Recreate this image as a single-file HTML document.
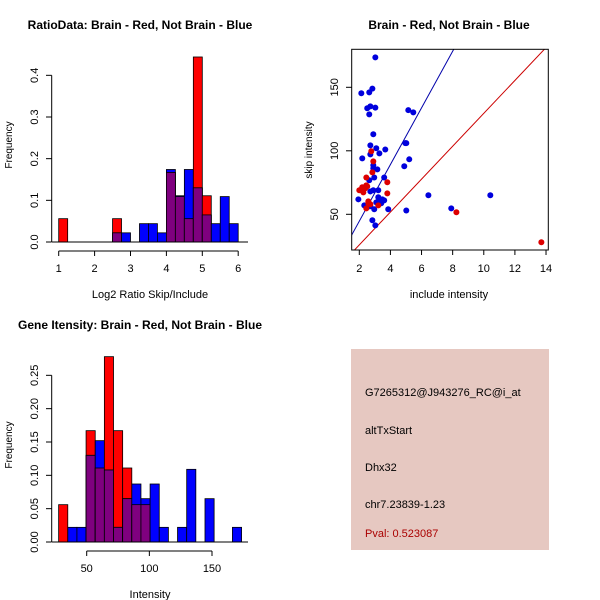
<!DOCTYPE html>
<html><head><meta charset="utf-8"><style>
html,body{margin:0;padding:0;background:#fff;}
svg{display:block;font-family:"Liberation Sans",sans-serif;}
</style></head><body>
<svg id="c" width="600" height="600" viewBox="0 0 600 600">
<rect width="600" height="600" fill="#fff"/>
</svg>
<script>
// ---- Ratio histogram data (bins of 0.25 starting at 1.0)
const ratioBinStarts = [1.0,1.25,1.5,1.75,2.0,2.25,2.5,2.75,3.0,3.25,3.5,3.75,4.0,4.25,4.5,4.75,5.0,5.25,5.5,5.75];
const ratioRed  = [0.056,0,0,0,0,0,0.056,0,0,0,0,0,0.167,0.109,0.056,0.444,0.111,0,0,0];
const ratioBlue = [0,0,0,0,0,0,0.022,0.022,0,0.044,0.044,0.022,0.174,0.111,0.174,0.130,0.065,0.044,0.109,0.044];
const ratioXTicks = [1,2,3,4,5,6];
const ratioYTicks = ["0.0","0.1","0.2","0.3","0.4"];
// ---- Intensity histogram data
const intBinStarts = [27.6,34.9,42.2,49.5,56.8,64.1,71.4,78.7,86.0,93.3,100.6,107.9,115.2,122.5,129.8,137.1,144.4,151.7,159.0,166.3];
const intRed  = [0.056,0,0,0.167,0.111,0.278,0.167,0.111,0.056,0.056,0,0,0,0,0,0,0,0,0,0];
const intBlue = [0,0.022,0.022,0.130,0.152,0.108,0.022,0.065,0.087,0.065,0.087,0.022,0,0.022,0.109,0,0.065,0,0,0.022];
const intXTicks = [50,100,150];
const intYTicks = ["0.00","0.05","0.10","0.15","0.20","0.25"];
// ---- Scatter data
const blueX = [3.03,2.13,2.64,2.84,2.51,2.71,3.03,2.64,2.9,2.71,2.19,2.71,3.09,3.29,3.67,2.9,2.9,3.16,2.96,3.6,2.64,2.71,2.9,3.22,1.94,3.22,3.48,3.6,3.35,3.09,3.41,2.32,2.51,2.71,2.96,3.86,2.84,3.03,4.89,4.96,5.02,5.15,5.47,5.21,5.02,6.44,7.91,10.42];
const blueY = [173.6,145.3,146,149,133.5,135,134,128.7,113,104.3,94,97.2,102,98,101,88.6,86.2,85.4,79,79,76.8,68,68.9,68.9,61.8,63.4,61.8,61,60.2,59.4,58.7,57,55.5,56.3,54,54,45.3,41.3,87.8,106,106,132,130.3,93.3,53,65,54.7,65];
const redX = [2.77,2.9,2.84,2.45,3.8,3.8,2,2.26,2.39,2.19,2.51,2.45,2.58,2.58,2.71,3.22,2.45,8.24,13.7];
const redY = [99.6,91.7,83,79,75.2,66.5,68.9,67.3,70.5,71.3,72,72.8,60.2,58.7,57.9,57,54.7,51.6,28];
const scXTicks = [2,4,6,8,10,12,14];
const scYTicks = [50,100,150];
const blueSlope = 22.3, redSlope = 12.95;

const svg = document.getElementById('c');
const NS = 'http://www.w3.org/2000/svg';
function mk(tag, attrs, parent){
  const e = document.createElementNS(NS, tag);
  for (const k in attrs) e.setAttribute(k, attrs[k]);
  (parent||svg).appendChild(e);
  return e;
}
function txt(x,y,s,opts){
  const t = mk('text',{x:x,y:y,'font-size':(opts&&opts.size)||11,'text-anchor':(opts&&opts.anchor)||'middle',fill:(opts&&opts.fill)||'#000'});
  if(opts&&opts.bold) t.setAttribute('font-weight','bold');
  if(opts&&opts.rot) t.setAttribute('transform','rotate(-90 '+x+' '+y+')');
  t.textContent = s;
  return t;
}
const PURPLE = '#7f007f';

function histogram(g, starts, red, blue, width, xs, ys){
  for (let i=0;i<starts.length;i++){
    const x0 = xs(starts[i]), x1 = xs(starts[i]+width);
    const r = red[i], b = blue[i], m = Math.min(r,b);
    if (r>0){ const e = mk('rect',{x:x0,y:ys(r),width:x1-x0,height:ys(0)-ys(r),fill:'#ff0000',stroke:'#000','stroke-width':0.8},g);
        }
    if (b>0){ const e = mk('rect',{x:x0,y:ys(b),width:x1-x0,height:ys(0)-ys(b),fill:'#0000ff',stroke:'#000','stroke-width':0.8},g);
        }
    if (m>0){ const e = mk('rect',{x:x0,y:ys(m),width:x1-x0,height:ys(0)-ys(m),fill:PURPLE,stroke:'#000','stroke-width':0.8},g);
        }
  }
}

// ===== Panel 1: ratio histogram
(function(){
  const g = mk('g',{});
  
  
  const xs = v => 58.7 + (v-1)*35.9;
  const ys = v => 242 - v*416.7;
  txt(140,29,'RatioData: Brain - Red, Not Brain - Blue',{bold:true,size:12});
  histogram(g, ratioBinStarts, ratioRed, ratioBlue, 0.25, xs, ys);
  mk('line',{x1:52,y1:242,x2:248,y2:242,stroke:'#000'},g);
  mk('line',{x1:xs(1),y1:251,x2:xs(6),y2:251,stroke:'#000'},g);
  ratioXTicks.forEach(t=>{ mk('line',{x1:xs(t),y1:251,x2:xs(t),y2:256,stroke:'#000'},g); txt(xs(t),272,String(t)); });
  mk('line',{x1:51.7,y1:ys(0),x2:51.7,y2:ys(0.4),stroke:'#000'},g);
  ratioYTicks.forEach(t=>{ const y=ys(parseFloat(t)); mk('line',{x1:46,y1:y,x2:51.7,y2:y,stroke:'#000'},g); txt(38,y,t,{rot:true}); });
  txt(150,298,'Log2 Ratio Skip/Include');
  txt(12,145,'Frequency',{rot:true,size:10});
})();

// ===== Panel 2: scatter
(function(){
  const g = mk('g',{});
  
  
  const xs = v => 359.3 + (v-2)*15.56;
  const ys = v => 214.3 - (v-50)*1.27;
  txt(449,29,'Brain - Red, Not Brain - Blue',{bold:true,size:12});
  const cp = mk('clipPath',{id:'scclip'},g); mk('rect',{x:351.7,y:49.3,width:196.6,height:200.7},cp);
  const lg = mk('g',{'clip-path':'url(#scclip)'},g);
  const bl = mk('line',{x1:xs(0),y1:ys(0),x2:xs(14),y2:ys(14*blueSlope),stroke:'#0000aa','stroke-width':1},lg);
   
  const rl = mk('line',{x1:xs(0),y1:ys(0),x2:xs(15),y2:ys(15*redSlope),stroke:'#cc0000','stroke-width':1},lg);
   
  for (let i=0;i<blueX.length;i++){ const c = mk('circle',{cx:xs(blueX[i]),cy:ys(blueY[i]),r:3,fill:'#0000dd'},g);
      }
  for (let i=0;i<redX.length;i++){ const c = mk('circle',{cx:xs(redX[i]),cy:ys(redY[i]),r:3,fill:'#dd0000'},g);
      }
  mk('rect',{x:351.7,y:49.3,width:196.6,height:200.7,fill:'none',stroke:'#000'},g);
  scXTicks.forEach(t=>{ mk('line',{x1:xs(t),y1:250,x2:xs(t),y2:255,stroke:'#000'},g); txt(xs(t),272,String(t)); });
  scYTicks.forEach(t=>{ mk('line',{x1:346,y1:ys(t),x2:351.7,y2:ys(t),stroke:'#000'},g); txt(338,ys(t),String(t),{rot:true}); });
  txt(449,298,'include intensity');
  txt(312,150,'skip intensity',{rot:true,size:10});
})();

// ===== Panel 3: intensity histogram
(function(){
  const g = mk('g',{});
  
  
  const xs = v => 86.7 + (v-50)*1.253;
  const ys = v => 542 - v*666.7;
  txt(140,329,'Gene Itensity: Brain - Red, Not Brain - Blue',{bold:true,size:12});
  histogram(g, intBinStarts, intRed, intBlue, 7.3, xs, ys);
  mk('line',{x1:52,y1:542,x2:248,y2:542,stroke:'#000'},g);
  mk('line',{x1:xs(50),y1:551,x2:xs(150),y2:551,stroke:'#000'},g);
  intXTicks.forEach(t=>{ mk('line',{x1:xs(t),y1:551,x2:xs(t),y2:556,stroke:'#000'},g); txt(xs(t),572,String(t)); });
  mk('line',{x1:51.7,y1:ys(0),x2:51.7,y2:ys(0.25),stroke:'#000'},g);
  intYTicks.forEach(t=>{ const y=ys(parseFloat(t)); mk('line',{x1:46,y1:y,x2:51.7,y2:y,stroke:'#000'},g); txt(38,y,t,{rot:true}); });
  txt(150,598,'Intensity');
  txt(12,445,'Frequency',{rot:true,size:10});
})();

// ===== Panel 4: info box
(function(){
  const g = mk('g',{});
  
  
  mk('rect',{x:351,y:349,width:198,height:201,fill:'#e6c8c1'},g);
  const lines = [['G7265312@J943276_RC@i_at',396,'#000','probe-id'],['altTxStart',434,'#000','event-type'],['Dhx32',471,'#000','gene-name'],['chr7.23839-1.23',508,'#000','chromosome-location'],['Pval: 0.523087',537,'#aa0000','p-value']];
  lines.forEach(l=>{ const t = txt(365,l[1],l[0],{anchor:'start',fill:l[2]});   });
})();
</script>
</body></html>
